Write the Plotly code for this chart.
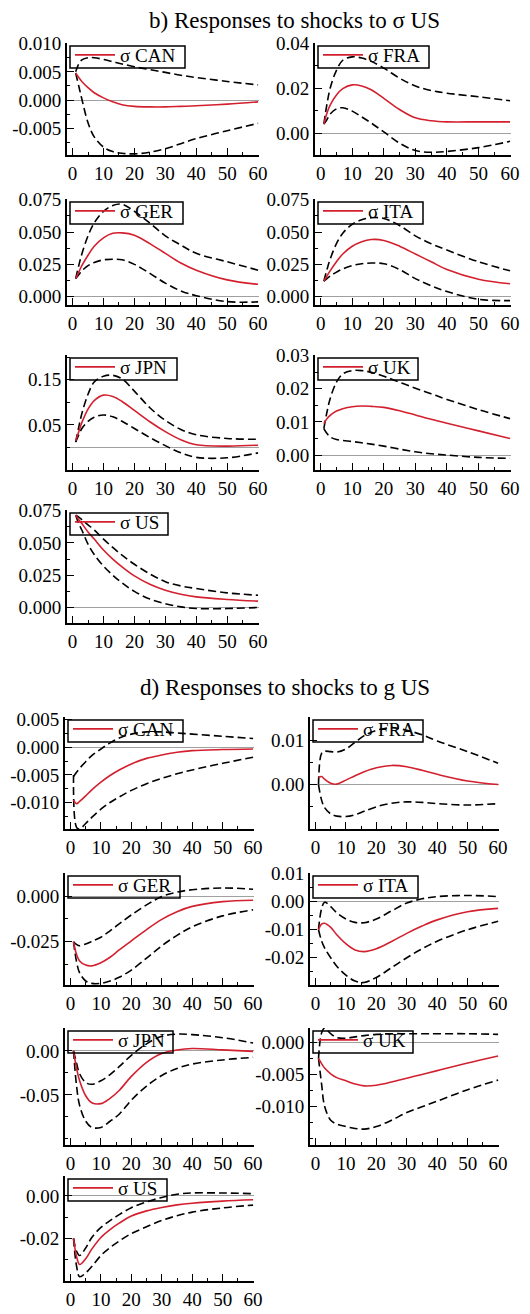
import plotly.graph_objects as go

# ---------------- data ----------------
HORIZON = [1, 2, 3, 5, 7, 10, 13, 16, 20, 25, 30, 35, 40, 50, 60]
X_TICKS = [0, 10, 20, 30, 40, 50, 60]
X_TICK_LABELS = ["0", "10", "20", "30", "40", "50", "60"]

TITLE_B = "b) Responses to shocks to σ US"
TITLE_D = "d) Responses to shocks to g US"

# b) responses to shocks to sigma US
B_CAN_MEAN = [0.0048, 0.0040, 0.0033, 0.0022, 0.0013, 0.0004, -0.0003, -0.0008, -0.0011, -0.0012, -0.0012, -0.0011, -0.0010, -0.0007, -0.0003]
B_CAN_UP = [0.0050, 0.0064, 0.0071, 0.0075, 0.0075, 0.0072, 0.0068, 0.0064, 0.0059, 0.0054, 0.0049, 0.0044, 0.0040, 0.0033, 0.0027]
B_CAN_LO = [0.0048, 0.0025, 0.0002, -0.0040, -0.0065, -0.0083, -0.0091, -0.0094, -0.0095, -0.0092, -0.0086, -0.0077, -0.0068, -0.0054, -0.0041]

B_FRA_MEAN = [0.004, 0.009, 0.0125, 0.017, 0.0198, 0.0215, 0.021, 0.0193, 0.0155, 0.0105, 0.0068, 0.0055, 0.0050, 0.0050, 0.0050]
B_FRA_UP = [0.004, 0.013, 0.020, 0.028, 0.0325, 0.034, 0.0335, 0.032, 0.029, 0.0245, 0.021, 0.019, 0.0178, 0.0162, 0.0144]
B_FRA_LO = [0.004, 0.006, 0.0085, 0.0108, 0.0113, 0.0098, 0.0072, 0.0045, 0.0005, -0.0045, -0.0078, -0.0086, -0.0082, -0.0065, -0.0037]

B_GER_MEAN = [0.014, 0.019, 0.024, 0.032, 0.039, 0.0455, 0.049, 0.0493, 0.0475, 0.041, 0.0335, 0.026, 0.0205, 0.013, 0.0096]
B_GER_UP = [0.014, 0.024, 0.033, 0.047, 0.057, 0.066, 0.0705, 0.0715, 0.066, 0.057, 0.047, 0.040, 0.0335, 0.027, 0.0205]
B_GER_LO = [0.014, 0.017, 0.020, 0.024, 0.0265, 0.0285, 0.029, 0.0285, 0.025, 0.018, 0.0105, 0.0045, 0.0008, -0.0038, -0.004]

B_ITA_MEAN = [0.012, 0.016, 0.020, 0.027, 0.033, 0.039, 0.0425, 0.0442, 0.0435, 0.039, 0.033, 0.027, 0.021, 0.0135, 0.010]
B_ITA_UP = [0.012, 0.021, 0.029, 0.041, 0.049, 0.056, 0.0595, 0.061, 0.0605, 0.055, 0.047, 0.041, 0.036, 0.027, 0.020]
B_ITA_LO = [0.012, 0.014, 0.016, 0.019, 0.0215, 0.024, 0.0255, 0.026, 0.0255, 0.021, 0.014, 0.0085, 0.004, -0.002, -0.003]

B_JPN_MEAN = [0.015, 0.035, 0.055, 0.085, 0.104, 0.116, 0.113, 0.102, 0.082, 0.057, 0.035, 0.017, 0.006, 0.003, 0.005]
B_JPN_UP = [0.012, 0.045, 0.075, 0.118, 0.145, 0.158, 0.160, 0.152, 0.125, 0.088, 0.060, 0.040, 0.028, 0.020, 0.018]
B_JPN_LO = [0.012, 0.028, 0.042, 0.058, 0.067, 0.072, 0.068, 0.058, 0.042, 0.022, 0.004, -0.012, -0.022, -0.023, -0.012]

B_UK_MEAN = [0.0095, 0.011, 0.012, 0.0133, 0.014, 0.0146, 0.0148, 0.0147, 0.0144, 0.0134, 0.0121, 0.0108, 0.0096, 0.0073, 0.0050]
B_UK_UP = [0.008, 0.013, 0.017, 0.022, 0.0245, 0.0255, 0.0255, 0.025, 0.0238, 0.022, 0.0202, 0.0185, 0.0168, 0.0137, 0.011]
B_UK_LO = [0.008, 0.0065, 0.0055, 0.0047, 0.0044, 0.0041, 0.0037, 0.0033, 0.0027, 0.0018, 0.0010, 0.0004, 0.0000, -0.0007, -0.0010]

B_US_MEAN = [0.0715, 0.068, 0.065, 0.0585, 0.053, 0.0445, 0.0375, 0.0315, 0.0245, 0.018, 0.0134, 0.0103, 0.0082, 0.0062, 0.0049]
B_US_UP = [0.0715, 0.070, 0.068, 0.064, 0.060, 0.053, 0.0465, 0.0405, 0.0335, 0.026, 0.020, 0.0167, 0.0147, 0.0113, 0.0095]
B_US_LO = [0.0715, 0.065, 0.060, 0.049, 0.041, 0.032, 0.025, 0.019, 0.0125, 0.0065, 0.003, 0.0005, -0.0008, -0.0008, 0.0]

# d) responses to shocks to g US
D_CAN_MEAN = [-0.0095, -0.0102, -0.0098, -0.0088, -0.0077, -0.0063, -0.0051, -0.0041, -0.0030, -0.0020, -0.0014, -0.0009, -0.0006, -0.0004, -0.0003]
D_CAN_UP = [-0.0053, -0.0045, -0.0038, -0.0026, -0.0015, -0.0003, 0.0008, 0.0017, 0.0024, 0.0028, 0.0028, 0.0026, 0.0024, 0.0020, 0.0016]
D_CAN_LO = [-0.0050, -0.0145, -0.0148, -0.0138, -0.0127, -0.0112, -0.0100, -0.0090, -0.0078, -0.0066, -0.0056, -0.0048, -0.0041, -0.0029, -0.0018]

D_FRA_MEAN = [0.0015, 0.0018, 0.0012, 0.0003, 0.0001, 0.0010, 0.0020, 0.0029, 0.0038, 0.0043, 0.0040, 0.0032, 0.0023, 0.0008, 0.0000]
D_FRA_UP = [0.0, 0.0070, 0.0075, 0.0074, 0.0073, 0.0080, 0.0095, 0.0110, 0.0122, 0.0128, 0.0122, 0.0112, 0.0098, 0.0074, 0.0048]
D_FRA_LO = [0.0, -0.0035, -0.0052, -0.0066, -0.0071, -0.0072, -0.0068, -0.0060, -0.0050, -0.0042, -0.0039, -0.0040, -0.0043, -0.0046, -0.0043]

D_GER_MEAN = [-0.025, -0.032, -0.0355, -0.0378, -0.0382, -0.0365, -0.0335, -0.0295, -0.0245, -0.0183, -0.0127, -0.0085, -0.0056, -0.0030, -0.0022]
D_GER_UP = [-0.025, -0.0265, -0.0272, -0.0262, -0.0248, -0.0225, -0.0190, -0.0152, -0.0103, -0.0048, -0.0002, 0.0022, 0.0035, 0.0045, 0.0038]
D_GER_LO = [-0.025, -0.036, -0.042, -0.0465, -0.0478, -0.0478, -0.0465, -0.0445, -0.0405, -0.034, -0.0272, -0.0215, -0.0168, -0.0108, -0.0075]

D_ITA_MEAN = [-0.0100, -0.0080, -0.0077, -0.0092, -0.0118, -0.0150, -0.0172, -0.0178, -0.0168, -0.0142, -0.0113, -0.0087, -0.0065, -0.0036, -0.0024]
D_ITA_UP = [-0.0100, -0.0025, -0.0002, -0.0018, -0.0040, -0.0062, -0.0074, -0.0075, -0.0062, -0.0033, -0.0005, 0.0010, 0.0018, 0.0022, 0.0018]
D_ITA_LO = [-0.0100, -0.0140, -0.0165, -0.0200, -0.0230, -0.0262, -0.0283, -0.0288, -0.0270, -0.0235, -0.0200, -0.0168, -0.0141, -0.0100, -0.0070]

D_JPN_MEAN = [0.000, -0.020, -0.034, -0.051, -0.059, -0.060, -0.054, -0.045, -0.029, -0.013, -0.003, 0.001, 0.0027, 0.0011, -0.0006]
D_JPN_UP = [0.000, -0.014, -0.026, -0.036, -0.038, -0.034, -0.027, -0.018, -0.005, 0.008, 0.0165, 0.019, 0.0185, 0.015, 0.009]
D_JPN_LO = [0.000, -0.040, -0.062, -0.080, -0.087, -0.087, -0.080, -0.072, -0.056, -0.040, -0.028, -0.020, -0.015, -0.0103, -0.0074]

D_UK_MEAN = [-0.0025, -0.0033, -0.0040, -0.0049, -0.0055, -0.0060, -0.0065, -0.0068, -0.0067, -0.0062, -0.0056, -0.0050, -0.0044, -0.0032, -0.0021]
D_UK_UP = [-0.0025, 0.0015, 0.0023, 0.0014, 0.0008, 0.0007, 0.0009, 0.0011, 0.0013, 0.0014, 0.0014, 0.0014, 0.0014, 0.0014, 0.0013]
D_UK_LO = [-0.0025, -0.0065, -0.0100, -0.0122, -0.0128, -0.0132, -0.0135, -0.0136, -0.0132, -0.0122, -0.0110, -0.0101, -0.0092, -0.0074, -0.0059]

D_US_MEAN = [-0.0200, -0.0285, -0.0322, -0.0295, -0.0250, -0.0195, -0.0158, -0.0128, -0.0094, -0.0070, -0.0054, -0.0042, -0.0034, -0.0024, -0.0018]
D_US_UP = [-0.0200, -0.0260, -0.0280, -0.0245, -0.0195, -0.0148, -0.0116, -0.0088, -0.0055, -0.0028, -0.0007, 0.0008, 0.0014, 0.0014, 0.0011]
D_US_LO = [-0.0200, -0.0330, -0.0380, -0.0362, -0.0332, -0.0280, -0.0243, -0.0212, -0.0177, -0.0145, -0.0115, -0.0093, -0.0076, -0.0056, -0.0043]

# panel specs: label, series, y-range, y tick values, y tick labels, minor step
PANELS = [
    ("σ CAN", B_CAN_MEAN, B_CAN_UP, B_CAN_LO, [-0.0097, 0.0101], [-0.005, 0, 0.005, 0.010], ["-0.005", "0.000", "0.005", "0.010"], 0.0025),
    ("σ FRA", B_FRA_MEAN, B_FRA_UP, B_FRA_LO, [-0.0098, 0.0402], [0, 0.02, 0.04], ["0.00", "0.02", "0.04"], 0.01),
    ("σ GER", B_GER_MEAN, B_GER_UP, B_GER_LO, [-0.0064, 0.0755], [0, 0.025, 0.05, 0.075], ["0.000", "0.025", "0.050", "0.075"], 0.0125),
    ("σ ITA", B_ITA_MEAN, B_ITA_UP, B_ITA_LO, [-0.0064, 0.0755], [0, 0.025, 0.05, 0.075], ["0.000", "0.025", "0.050", "0.075"], 0.0125),
    ("σ JPN", B_JPN_MEAN, B_JPN_UP, B_JPN_LO, [-0.05, 0.205], [0.05, 0.15], ["0.05", "0.15"], 0.05),
    ("σ UK", B_UK_MEAN, B_UK_UP, B_UK_LO, [-0.0045, 0.0302], [0, 0.01, 0.02, 0.03], ["0.00", "0.01", "0.02", "0.03"], 0.005),
    ("σ US", B_US_MEAN, B_US_UP, B_US_LO, [-0.012, 0.0755], [0, 0.025, 0.05, 0.075], ["0.000", "0.025", "0.050", "0.075"], 0.0125),
    ("σ CAN", D_CAN_MEAN, D_CAN_UP, D_CAN_LO, [-0.0148, 0.0055], [-0.010, -0.005, 0, 0.005], ["-0.010", "-0.005", "0.000", "0.005"], 0.0025),
    ("σ FRA", D_FRA_MEAN, D_FRA_UP, D_FRA_LO, [-0.0100, 0.0152], [0, 0.01], ["0.00", "0.01"], 0.005),
    ("σ GER", D_GER_MEAN, D_GER_UP, D_GER_LO, [-0.0487, 0.0127], [-0.025, 0], ["-0.025", "0.000"], 0.0125),
    ("σ ITA", D_ITA_MEAN, D_ITA_UP, D_ITA_LO, [-0.0297, 0.0102], [-0.02, -0.01, 0, 0.01], ["-0.02", "-0.01", "0.00", "0.01"], 0.005),
    ("σ JPN", D_JPN_MEAN, D_JPN_UP, D_JPN_LO, [-0.107, 0.026], [-0.05, 0], ["-0.05", "0.00"], 0.025),
    ("σ UK", D_UK_MEAN, D_UK_UP, D_UK_LO, [-0.0161, 0.0023], [-0.010, -0.005, 0], ["-0.010", "-0.005", "0.000"], 0.0025),
    ("σ US", D_US_MEAN, D_US_UP, D_US_LO, [-0.0400, 0.0094], [-0.02, 0], ["-0.02", "0.00"], 0.01),
]

# ---------------- layout geometry (page pixels) ----------------
OFF = 8                      # browser body margin
W, H = 530 - OFF, 1314 - OFF
COLS_TOP = [(67, 259), (315, 511)]
COLS_BOT = [(65, 254), (310, 499)]
ROWS_TOP = [(43, 155), (199, 305), (355, 470), (510, 623)]
ROWS_BOT = [(717, 829), (873, 985), (1028, 1145), (1176, 1281)]
BOX_W = [115, 111, 113, 105, 107, 100, 98, 115, 110, 112, 105, 105, 100, 99]
BOX_H = 22


def px_x(p):
    return (p - OFF) / W


def px_y(p):
    return 1 - (p - OFF) / H


FONT = "Liberation Serif"
RED = "#d3202f"

fig = go.Figure()
layout = dict(
    width=W, height=H, margin=dict(l=0, r=0, t=0, b=0, autoexpand=False),
    paper_bgcolor="white", plot_bgcolor="white",
    font=dict(family=FONT, size=19, color="black"),
    showlegend=True,
)
shapes = []
LINE_STYLE = dict(shape="spline", smoothing=1.0)

for i, (label, mean, up, lo, yr, yt, ytt, ystep) in enumerate(PANELS):
    sec_top = i < 7
    k = i if sec_top else i - 7
    r, c = divmod(k, 2)
    cols = COLS_TOP if sec_top else COLS_BOT
    rows = ROWS_TOP if sec_top else ROWS_BOT
    x0, x1 = cols[c]
    y0, y1 = rows[r]
    n = i + 1
    xa = "xaxis" if n == 1 else f"xaxis{n}"
    ya = "yaxis" if n == 1 else f"yaxis{n}"
    xr = "x" if n == 1 else f"x{n}"
    yr_ = "y" if n == 1 else f"y{n}"
    lg = "legend" if n == 1 else f"legend{n}"

    layout[xa] = dict(
        domain=[px_x(x0), px_x(x1)], anchor=yr_, range=[-1.8, 60.3],
        showline=True, linecolor="black", linewidth=1.6, mirror=False,
        showgrid=False, zeroline=False,
        ticks="inside", ticklen=7, tickwidth=1.4, tickcolor="black",
        tickmode="array", tickvals=X_TICKS, ticktext=X_TICK_LABELS,
        minor=dict(ticks="inside", ticklen=3.5, tickwidth=1.2, tickcolor="black", dtick=5, tick0=0),
        tickfont=dict(family=FONT, size=19, color="black"),
        fixedrange=True,
    )
    layout[ya] = dict(
        domain=[px_y(y1), px_y(y0)], anchor=xr, range=yr,
        showline=True, linecolor="black", linewidth=1.8, mirror=False,
        showgrid=False, zeroline=True, zerolinecolor="#a0a0a0", zerolinewidth=1,
        ticks="inside", ticklen=7, tickwidth=1.4, tickcolor="black",
        tickmode="array", tickvals=yt, ticktext=ytt,
        minor=dict(ticks="inside", ticklen=3.5, tickwidth=1.2, tickcolor="black", dtick=ystep, tick0=0),
        tickfont=dict(family=FONT, size=19, color="black"),
        fixedrange=True,
    )
    bx0, by0 = x0 + 3, y0 + 3
    layout[lg] = dict(
        x=px_x(bx0), y=px_y(by0 - 10), xanchor="left", yanchor="top",
        borderwidth=0, bgcolor="rgba(0,0,0,0)",
        font=dict(family=FONT, size=19, color="black"),
        itemwidth=40, tracegroupgap=0,
    )
    shapes.append(dict(type="rect", xref="paper", yref="paper",
                       x0=px_x(bx0), x1=px_x(bx0 + BOX_W[i]),
                       y0=px_y(by0 + BOX_H), y1=px_y(by0),
                       line=dict(color="black", width=1.5), fillcolor="rgba(0,0,0,0)", layer="above"))

    fig.add_trace(go.Scatter(x=HORIZON, y=up, mode="lines", xaxis=xr, yaxis=yr_,
                             line=dict(color="black", width=1.6, dash="8px,4px", **LINE_STYLE),
                             showlegend=False, hoverinfo="skip"))
    fig.add_trace(go.Scatter(x=HORIZON, y=lo, mode="lines", xaxis=xr, yaxis=yr_,
                             line=dict(color="black", width=1.6, dash="8px,4px", **LINE_STYLE),
                             showlegend=False, hoverinfo="skip"))
    fig.add_trace(go.Scatter(x=HORIZON, y=mean, mode="lines", xaxis=xr, yaxis=yr_, name=label,
                             line=dict(color=RED, width=1.6, **LINE_STYLE),
                             showlegend=True, legend=lg))

layout["shapes"] = shapes
layout["annotations"] = [
    dict(text=TITLE_B, x=px_x(294), y=px_y(20), xref="paper", yref="paper",
         xanchor="center", yanchor="middle", showarrow=False,
         font=dict(family=FONT, size=23, color="black")),
    dict(text=TITLE_D, x=px_x(285), y=px_y(687), xref="paper", yref="paper",
         xanchor="center", yanchor="middle", showarrow=False,
         font=dict(family=FONT, size=23, color="black")),
]

fig.update_layout(**layout)
fig.write_html("out.html")
